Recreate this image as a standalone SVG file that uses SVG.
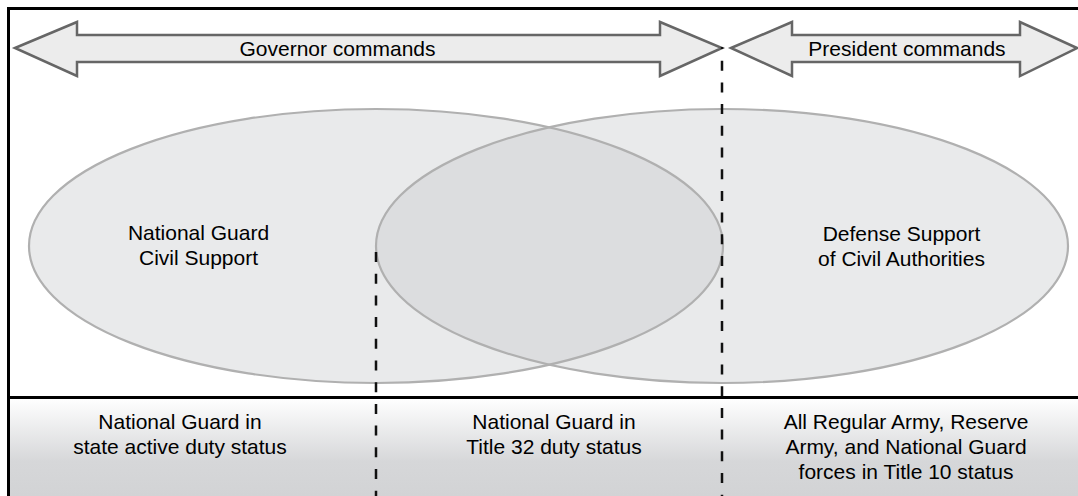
<svg xmlns="http://www.w3.org/2000/svg" width="1078" height="496" viewBox="0 0 1078 496">
<style>
.t{font-family:"Liberation Sans",Arial,sans-serif;font-size:21px;fill:#000;text-anchor:middle}
.arrow{fill:#ececec;stroke:#666;stroke-width:2.5;stroke-linejoin:miter}
.ell{fill:#c9cacd;fill-opacity:0.4;stroke:none}
.ellstroke{fill:none;stroke:#b0b0b0;stroke-width:2.2}
.dash{stroke:#111;stroke-width:2.5;stroke-dasharray:10 11.7;fill:none}
.frame{stroke:#000;stroke-width:3;fill:none}
</style>
<defs>
<linearGradient id="band" x1="0" y1="0" x2="0" y2="1">
<stop offset="0" stop-color="#ffffff"/>
<stop offset="0.65" stop-color="#d6d7d9"/>
<stop offset="1" stop-color="#d2d3d5"/>
</linearGradient>
</defs>
<rect x="0" y="0" width="1078" height="496" fill="#ffffff"/>
<rect x="8.5" y="398" width="1070" height="98" fill="url(#band)"/>
<g id="ellipse-ngcs">
<ellipse class="ell" cx="376" cy="246" rx="347" ry="137"/>
</g>
<g id="ellipse-dsca">
<ellipse class="ell" cx="722" cy="246" rx="346" ry="137"/>
</g>
<ellipse class="ellstroke" cx="376" cy="246" rx="347" ry="137"/>
<ellipse class="ellstroke" cx="722" cy="246" rx="346" ry="137"/>
<text class="t" x="198.5" y="240">National Guard</text>
<text class="t" x="198.5" y="265">Civil Support</text>
<text class="t" x="901.5" y="241">Defense Support</text>
<text class="t" x="901.5" y="266">of Civil Authorities</text>
<g id="frame">
<path class="frame" d="M8.5,496 V8.5 H1078"/>
<line class="frame" x1="8.5" y1="397.5" x2="1078" y2="397.5"/>
</g>
<g id="governor-arrow">
<polygon class="arrow" points="15,48 77,22 77,35 660,35 660,22 722,48 660,76 660,62 77,62 77,76"/>
<text class="t" x="337.5" y="55.5">Governor commands</text>
</g>
<g id="president-arrow">
<polygon class="arrow" points="731,48 792,22 792,35 1020,35 1020,22 1077,48 1020,76 1020,62 792,62 792,76"/>
<text class="t" x="907" y="55.5">President commands</text>
</g>
<g id="connectors">
<line class="dash" x1="722" y1="47" x2="722" y2="496" style="stroke-dashoffset:8"/>
<line class="dash" x1="376" y1="252" x2="376" y2="496"/>
</g>
<g id="col-state">
<text class="t" x="180" y="429">National Guard in</text>
<text class="t" x="180" y="453.5">state active duty status</text>
</g>
<g id="col-title32">
<text class="t" x="554" y="429">National Guard in</text>
<text class="t" x="554" y="453.5">Title 32 duty status</text>
</g>
<g id="col-title10">
<text class="t" x="906" y="429">All Regular Army, Reserve</text>
<text class="t" x="906" y="454">Army, and National Guard</text>
<text class="t" x="906" y="479">forces in Title 10 status</text>
</g>
</svg>
